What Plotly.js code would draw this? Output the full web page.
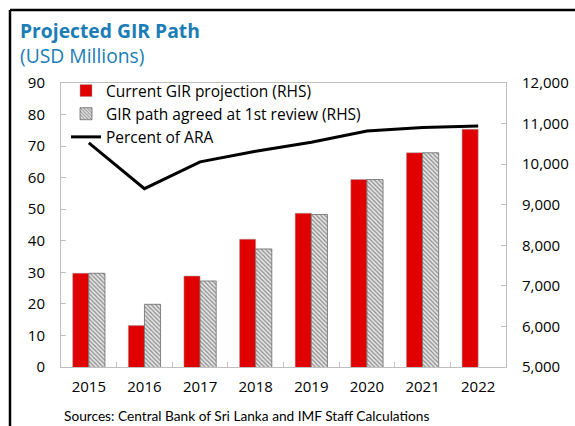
<!DOCTYPE html>
<html>
<head>
<meta charset="utf-8">
<script src="https://cdn.plot.ly/plotly-3.0.1.min.js"></script>
<style>html,body{margin:0;padding:0;background:#fff;}#chart{width:575px;height:426px;}</style>
</head>
<body>
<div id="chart"></div>
<script>
var years = ['2015','2016','2017','2018','2019','2020','2021','2022'];
var currentGIR = [7310, 6020, 7240, 8150, 8790, 9620, 10280, 10860];
var agreedGIR = [7310, 6545, 7120, 7910, 8760, 9620, 10280, null];
var percentARA = [71.0, 56.5, 65.0, 68.4, 71.2, 74.8, 75.9, 76.4];

var FONT = 'Open Sans, Noto Sans, sans-serif';

var traces = [
  {type:'bar', name:'Current GIR projection (RHS)', x:years, y:currentGIR, yaxis:'y',
   marker:{color:'#E00000', line:{color:'#a0a0a0', width:0.5}}},
  {type:'bar', name:'GIR path agreed at 1st review (RHS)', x:years, y:agreedGIR, yaxis:'y',
   marker:{color:'#d9d9d9', line:{color:'#6a6a6a', width:0.8},
           pattern:{shape:'\\', fgcolor:'#8a8a8a', bgcolor:'#e6e6e6', size:3, solidity:0.4}}},
  {type:'scatter', mode:'lines', name:'Percent of ARA', x:years, y:percentARA, yaxis:'y2',
   line:{color:'#000000', width:3}}
];

var px2x = function(p){ return (p-61)/445; };
var py2y = function(p){ return (367-p)/284; };

var layout = {
  width:575, height:426,
  margin:{l:61, r:69, t:83, b:59},
  paper_bgcolor:'#ffffff', plot_bgcolor:'#ffffff',
  font:{family:FONT, size:15, color:'#000'},
  showlegend:true,
  barmode:'group', bargap:0.42, bargroupgap:0,
  title:{text:'<b>Projected GIR Path</b><br>(USD Millions)', x:20/575, xref:'container', xanchor:'left',
         y:1-38/426, yref:'container', yanchor:'top',
         font:{family:FONT, size:19.3, color:'#1B7DB6'}},
  xaxis:{type:'category', showline:true, linecolor:'#bfbfbf', linewidth:1, mirror:true,
         ticks:'inside', tickson:'boundaries', ticklen:5, tickcolor:'#bfbfbf',
         tickfont:{size:15}, ticklabelstandoff:6},
  yaxis:{side:'right', range:[5000,12000], dtick:1000, tickformat:',', showgrid:false, zeroline:false,
         showline:true, linecolor:'#bfbfbf', ticks:'inside', ticklen:5, tickcolor:'#bfbfbf',
         tickfont:{size:15}, ticklabelstandoff:12},
  yaxis2:{overlaying:'y', side:'left', range:[0,90], dtick:10, showgrid:false, zeroline:false,
          showline:true, linecolor:'#bfbfbf', ticks:'inside', ticklen:5, tickcolor:'#bfbfbf',
          tickfont:{size:15}, ticklabelstandoff:12},
  legend:{x:px2x(66), y:1+9/284, xanchor:'left', yanchor:'top', bgcolor:'rgba(255,255,255,0)',
          font:{size:15.5}, traceorder:'normal', tracegroupgap:0},
  annotations:[
    {text:'Sources: Central Bank of Sri Lanka and IMF Staff Calculations', xref:'paper', yref:'paper',
     x:px2x(62), y:py2y(416), xanchor:'left', yanchor:'middle', showarrow:false,
     font:{family:'Lato, Open Sans, sans-serif', size:13.7}}
  ],
  shapes:[
    {type:'line', xref:'paper', yref:'paper', x0:px2x(10), x1:px2x(576), y0:py2y(10), y1:py2y(10), line:{color:'#000', width:2.5}},
    {type:'line', xref:'paper', yref:'paper', x0:px2x(10), x1:px2x(10), y0:py2y(10), y1:py2y(427), line:{color:'#000', width:2.5}}
  ]
};

Plotly.newPlot('chart', traces, layout, {displayModeBar:false, staticPlot:true});
</script>
</body>
</html>
